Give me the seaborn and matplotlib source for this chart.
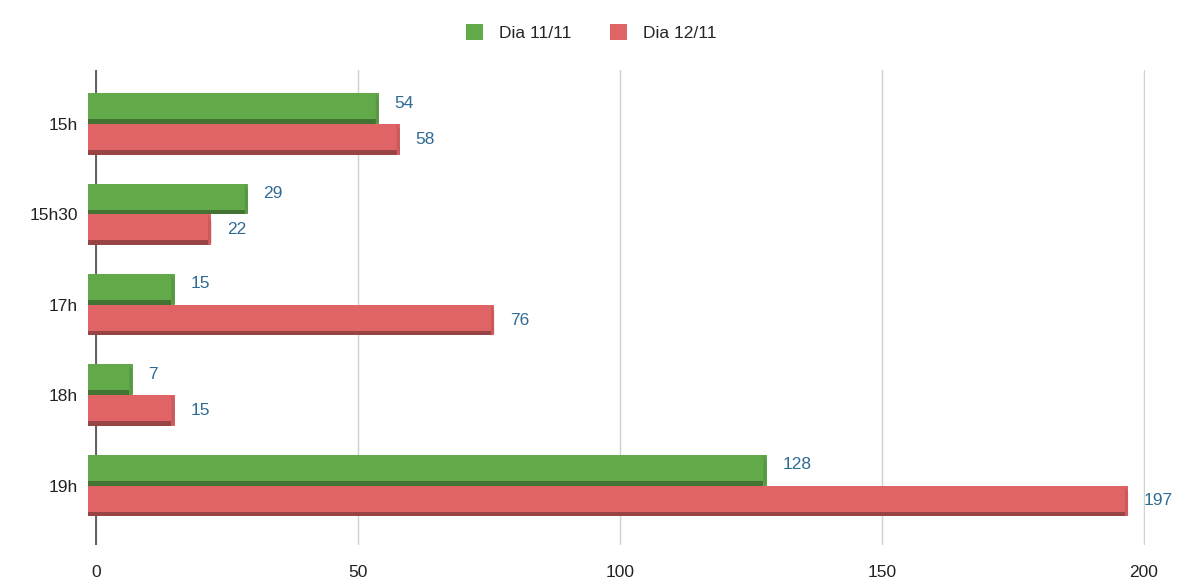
import matplotlib
matplotlib.use("Agg")
import matplotlib.pyplot as plt
import matplotlib.colors as mcolors
from matplotlib.patches import Rectangle, Patch, Polygon
import seaborn as sns
import pandas as pd

# Horários e contagens por dia
horarios = ["15h", "15h30", "17h", "18h", "19h"]
dia_11 = [54, 29, 15, 7, 128]
dia_12 = [58, 22, 76, 15, 197]
series = ["Dia 11/11", "Dia 12/11"]
x_ticks = [0, 50, 100, 150, 200]

cores = {"Dia 11/11": "#62a94a", "Dia 12/11": "#e06466"}
cor_rotulo = "#2f6b94"

df = pd.DataFrame({
    "horario": horarios * 2,
    "valor": dia_11 + dia_12,
    "serie": [series[0]] * len(horarios) + [series[1]] * len(horarios),
})

sns.set_theme(style="white")
plt.rcParams["font.family"] = ["Liberation Sans", "DejaVu Sans"]

fig = plt.figure(figsize=(11.82, 5.8), dpi=100)
ax = fig.add_axes([0.0741, 0.06, 0.8949, 0.82])

sns.barplot(data=df, y="horario", x="valor", hue="serie", order=horarios,
            hue_order=series, palette=cores, orient="h", width=0.68,
            saturation=1, legend=False, ax=ax, zorder=3, linewidth=0)

# Profundidade: extensão à esquerda, face inferior escura e chanfro à direita
prof = 1.5
for bar in list(ax.patches):
    x0 = bar.get_x()
    y0 = bar.get_y()
    w = bar.get_width()
    h = bar.get_height()
    base = mcolors.to_rgb(bar.get_facecolor())
    escuro = tuple(c * 0.68 for c in base)
    claro = tuple(min(1, c * 0.9) for c in base)
    ax.add_patch(Rectangle((x0 - prof, y0), prof, h,
                           facecolor=base, edgecolor="none", zorder=3))
    ax.add_patch(Rectangle((x0 - prof, y0 + h * 0.85), w + prof - 0.6, h * 0.15,
                           facecolor=escuro, edgecolor="none", zorder=4))
    ax.add_patch(Polygon([(x0 + w - 0.6, y0), (x0 + w, y0 + h * 0.2),
                          (x0 + w, y0 + h * 0.95), (x0 + w - 0.6, y0 + h)],
                         closed=True, facecolor=claro, edgecolor="none",
                         zorder=4))

# Rótulos de valor
for container, valores, dy in zip(ax.containers, [dia_11, dia_12], [-0.06, 0.0]):
    for bar, v in zip(container, valores):
        ax.text(bar.get_width() + 3.0, bar.get_y() + bar.get_height() / 2 + dy,
                str(v), ha="left", va="center", fontsize=12.5, color=cor_rotulo,
                zorder=5)

ax.set_xlim(-1.6, 200.3)
ax.set_ylim(4.66, -0.6)
ax.set_xticks(x_ticks)
ax.set_xticklabels([str(t) for t in x_ticks])
ax.xaxis.grid(True, color="#d0d0d0", linewidth=1, zorder=0)
ax.axvline(0, color="#555555", linewidth=1.3, zorder=2)
for s in ax.spines.values():
    s.set_visible(False)
ax.set_xlabel("")
ax.set_ylabel("")
ax.tick_params(axis="x", length=0, labelsize=12.5, colors="#222222", pad=14)
ax.tick_params(axis="y", length=0, labelsize=12.5, colors="#222222", pad=7)

handles = [Patch(facecolor=cores[s], edgecolor="none", label=s) for s in series]
fig.legend(handles=handles, loc="upper center", bbox_to_anchor=(0.5, 0.985),
           ncol=2, frameon=False, fontsize=12.5, handlelength=1.0,
           handleheight=1.0, columnspacing=2.2, handletextpad=0.9)

fig.savefig("out.png", dpi=100, facecolor="white")
